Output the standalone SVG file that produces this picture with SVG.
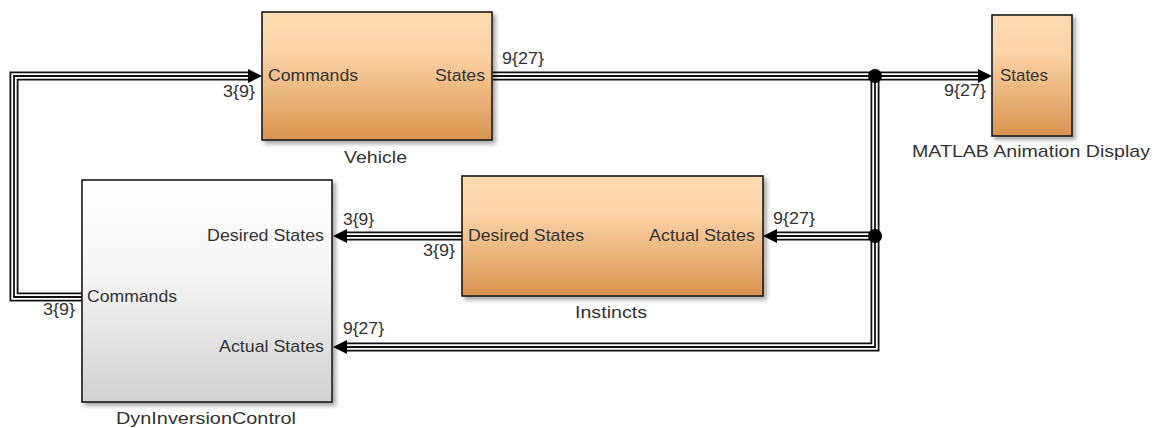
<svg xmlns="http://www.w3.org/2000/svg" width="1157" height="428" viewBox="0 0 1157 428">
<style>
  text { font-family: "Liberation Sans", Arial, sans-serif; font-size: 17px; fill: #333333; }
  .blk { stroke: #1a1a1a; stroke-width: 1.6; }
  .orange { fill: url(#gOrange); }
  .gray { fill: url(#gGray); }
  .bus1 { fill: none; stroke: #111111; stroke-width: 9; stroke-linejoin: miter; }
  .bus2 { fill: none; stroke: #ffffff; stroke-width: 5.4; stroke-linejoin: miter; }
  .bus3 { fill: none; stroke: #111111; stroke-width: 1.8; stroke-linejoin: miter; }
  .arrow { fill: #000000; }
</style>
<defs>
  <linearGradient id="gOrange" x1="0" y1="0" x2="0" y2="1">
    <stop offset="0" stop-color="#fedbb2"/>
    <stop offset="0.3" stop-color="#fcd5a7"/>
    <stop offset="1" stop-color="#d9934f"/>
  </linearGradient>
  <linearGradient id="gGray" x1="0" y1="0" x2="0" y2="1">
    <stop offset="0" stop-color="#ffffff"/>
    <stop offset="0.4" stop-color="#f6f6f6"/>
    <stop offset="1" stop-color="#d2d2d2"/>
  </linearGradient>
  <filter id="shadow" x="-10%" y="-10%" width="125%" height="125%">
    <feDropShadow dx="3" dy="3" stdDeviation="2" flood-color="#000000" flood-opacity="0.35"/>
  </filter>
</defs>
<rect width="1157" height="428" fill="#ffffff"/>

<g id="connectors">
  <!-- Commands feedback: Dyn -> Vehicle -->
  <path class="bus1" d="M82 297 H14 V76 H250"/>
  <path class="bus2" d="M82 297 H14 V76 H250"/>
  <path class="bus3" d="M82 297 H14 V76 H250"/>
  <polygon class="arrow" points="262,76 248,69 248,83"/>
  <!-- Vehicle States -> MATLAB -->
  <path class="bus1" d="M493 76 H980"/>
  <path class="bus2" d="M493 76 H980"/>
  <path class="bus3" d="M493 76 H980"/>
  <polygon class="arrow" points="992,76 978,69 978,83"/>
  <!-- branch down to Dyn Actual States -->
  <path class="bus1" d="M875 76 V347 H345"/>
  <path class="bus2" d="M875 76 V347 H345"/>
  <path class="bus3" d="M875 76 V347 H345"/>
  <polygon class="arrow" points="333,347 347,340 347,354"/>
  <!-- branch to Instincts Actual States -->
  <path class="bus1" d="M875 236 H775"/>
  <path class="bus2" d="M875 236 H775"/>
  <path class="bus3" d="M875 236 H775"/>
  <polygon class="arrow" points="763,236 777,229 777,243"/>
  <!-- Instincts Desired -> Dyn Desired -->
  <path class="bus1" d="M462 236 H345"/>
  <path class="bus2" d="M462 236 H345"/>
  <path class="bus3" d="M462 236 H345"/>
  <polygon class="arrow" points="333,236 347,229 347,243"/>
  <!-- junctions -->
  <circle cx="875" cy="76" r="7" fill="#000000"/>
  <circle cx="875" cy="236" r="7" fill="#000000"/>
  <!-- signal labels -->
  <text x="223" y="97" textLength="32" lengthAdjust="spacingAndGlyphs">3{9}</text>
  <text x="502" y="64" textLength="42" lengthAdjust="spacingAndGlyphs">9{27}</text>
  <text x="944" y="96" textLength="42" lengthAdjust="spacingAndGlyphs">9{27}</text>
  <text x="343" y="225" textLength="31" lengthAdjust="spacingAndGlyphs">3{9}</text>
  <text x="423" y="256" textLength="32" lengthAdjust="spacingAndGlyphs">3{9}</text>
  <text x="773" y="224" textLength="42" lengthAdjust="spacingAndGlyphs">9{27}</text>
  <text x="343" y="334" textLength="41" lengthAdjust="spacingAndGlyphs">9{27}</text>
  <text x="43" y="315" textLength="32" lengthAdjust="spacingAndGlyphs">3{9}</text>
</g>

<g id="vehicle">
  <rect class="blk orange" x="262" y="12" width="230" height="128" filter="url(#shadow)"/>
  <text x="268" y="81" textLength="90" lengthAdjust="spacingAndGlyphs">Commands</text>
  <text x="435" y="81" textLength="50" lengthAdjust="spacingAndGlyphs">States</text>
  <text x="344" y="163" textLength="63" lengthAdjust="spacingAndGlyphs">Vehicle</text>
</g>

<g id="matlab-animation-display">
  <rect class="blk orange" x="992" y="15" width="80" height="121" filter="url(#shadow)"/>
  <text x="1000" y="81" textLength="48" lengthAdjust="spacingAndGlyphs">States</text>
  <text x="912" y="157" textLength="238" lengthAdjust="spacingAndGlyphs">MATLAB Animation Display</text>
</g>

<g id="instincts">
  <rect class="blk orange" x="462" y="176" width="301" height="120" filter="url(#shadow)"/>
  <text x="468" y="241" textLength="116" lengthAdjust="spacingAndGlyphs">Desired States</text>
  <text x="649" y="241" textLength="106" lengthAdjust="spacingAndGlyphs">Actual States</text>
  <text x="575" y="318" textLength="72" lengthAdjust="spacingAndGlyphs">Instincts</text>
</g>

<g id="dyninversioncontrol">
  <rect class="blk gray" x="82" y="180" width="250" height="222" filter="url(#shadow)"/>
  <text x="207" y="241" textLength="117" lengthAdjust="spacingAndGlyphs">Desired States</text>
  <text x="87" y="302" textLength="90" lengthAdjust="spacingAndGlyphs">Commands</text>
  <text x="219" y="352" textLength="105" lengthAdjust="spacingAndGlyphs">Actual States</text>
  <text x="116" y="424" textLength="180" lengthAdjust="spacingAndGlyphs">DynInversionControl</text>
</g>
</svg>
